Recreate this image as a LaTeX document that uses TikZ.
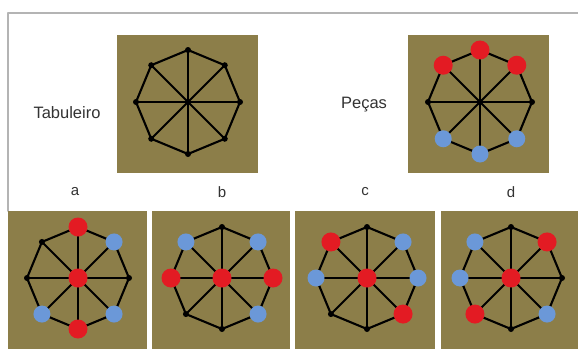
\documentclass[tikz,border=0pt]{standalone}
\usepackage{fontspec}
\setmainfont{Liberation Sans}
\usetikzlibrary{calc}
\definecolor{boardolive}{HTML}{8C7E49}
\definecolor{piecered}{HTML}{E31B23}
\definecolor{pieceblue}{HTML}{6B98D8}
\definecolor{framegray}{HTML}{B4B4B4}
\tikzset{
every picture/.style={line cap=round,line join=round},
board/.style={fill=boardolive, draw=none},
board line/.style={draw=black, line width=2.1pt},
frame line/.style={draw=framegray, line width=1.5pt},
vertex dot/.style={circle, fill=black, inner sep=0pt, minimum size=6pt},
red piece/.style={circle, fill=piecered, inner sep=0pt, minimum size=19pt},
blue piece/.style={circle, fill=pieceblue, inner sep=0pt, minimum size=17pt},
fig label/.style={font=\fontsize{16.5}{18}\selectfont, text=black!80},
letter label/.style={font=\fontsize{15}{17}\selectfont, text=black!80}
}
% octagonal board: name, centre x, centre y, radius
\newcommand{\octboard}[4]{%
  \coordinate (#1c) at (#2,#3);
  \foreach \k in {0,...,7}
    \coordinate (#1\k) at ($(#1c)+(\k*45:#4)$);
  \draw[board line] (#10) \foreach \k in {1,...,7}{-- (#1\k)} -- cycle;
  \foreach \k/\m in {0/4,1/5,2/6,3/7}
    \draw[board line] (#1\k) -- (#1\m);
  \foreach \k in {0,...,7}
    \node[vertex dot] (#1d\k) at (#1\k) {};
  \node[vertex dot] (#1dc) at (#1c) {};
}

\begin{document}
\begin{tikzpicture}[x=1pt,y=1pt]
\useasboundingbox (0,0) rectangle (578,349);
\fill[white] (0,0) rectangle (578,349);
% frame
\coordinate (fl) at (8,138);
\coordinate (ft) at (8,336);
\coordinate (fr) at (578,336);
\draw[frame line] (fl) -- (ft) -- (fr);
% top row
\fill[board] (117,176) rectangle (258,314);
\fill[board] (408,176) rectangle (549,314);
\octboard{T}{188}{247}{52}
\octboard{P}{480}{247}{52}
\node[fig label] (tab) at (67,236) {Tabuleiro};
\node[fig label] (pec) at (364,244) {Peças};
\node[red piece] (p1) at (P1) {};
\node[red piece] (p2) at (P2) {};
\node[red piece] (p3) at (P3) {};
\node[blue piece] (p5) at (P5) {};
\node[blue piece] (p6) at (P6) {};
\node[blue piece] (p7) at (P7) {};
\node[letter label] (la) at (75,157) {a};
\node[letter label] (lb) at (222,157) {b};
\node[letter label] (lc) at (365,157) {c};
\node[letter label] (ld) at (511,157) {d};
% bottom row
\fill[board] (8,0) rectangle (147,138);
\fill[board] (152,0) rectangle (290,138);
\fill[board] (295,0) rectangle (435,138);
\fill[board] (441,0) rectangle (578,138);
\octboard{A}{78}{71}{51}
\octboard{B}{222}{71}{51}
\octboard{C}{367}{71}{51}
\octboard{D}{511}{71}{51}
% a
\node[red piece] (a1) at (A2) {};
\node[red piece] (a2) at (A6) {};
\node[red piece] (a3) at (Ac) {};
\node[blue piece] (a4) at (A1) {};
\node[blue piece] (a5) at (A7) {};
\node[blue piece] (a6) at (A5) {};
% b
\node[red piece] (b1) at (B0) {};
\node[red piece] (b2) at (B4) {};
\node[red piece] (b3) at (Bc) {};
\node[blue piece] (b4) at (B1) {};
\node[blue piece] (b5) at (B3) {};
\node[blue piece] (b6) at (B7) {};
% c
\node[red piece] (c1) at (C3) {};
\node[red piece] (c2) at (C7) {};
\node[red piece] (c3) at (Cc) {};
\node[blue piece] (c4) at (C1) {};
\node[blue piece] (c5) at (C0) {};
\node[blue piece] (c6) at (C4) {};
% d
\node[red piece] (d1) at (D1) {};
\node[red piece] (d2) at (D5) {};
\node[red piece] (d3) at (Dc) {};
\node[blue piece] (d4) at (D3) {};
\node[blue piece] (d5) at (D4) {};
\node[blue piece] (d6) at (D7) {};
\end{tikzpicture}
\end{document}
